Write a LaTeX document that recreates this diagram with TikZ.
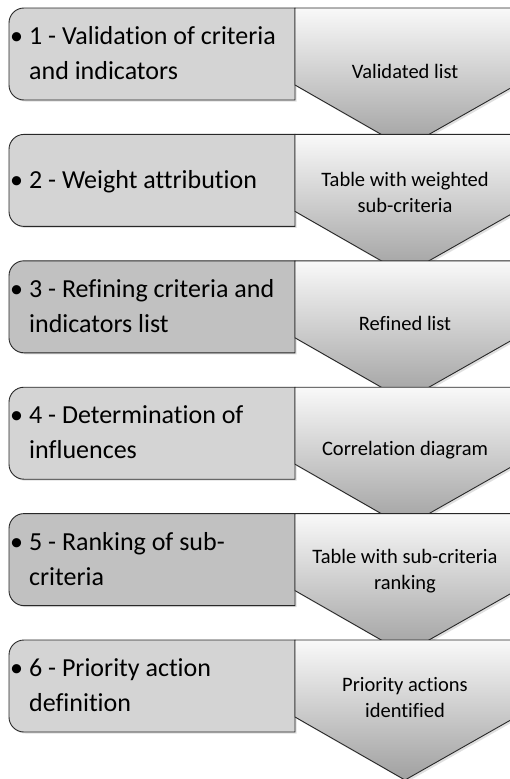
\documentclass[tikz,border=0pt]{standalone}
\usepackage{fontspec}
\setmainfont[Ligatures={NoCommon,NoRequired,NoContextual}]{Carlito}
\usetikzlibrary{positioning,calc,shadows}

\definecolor{boxlight}{RGB}{212,212,212}
\definecolor{boxdark}{RGB}{193,193,193}
\definecolor{edgegray}{RGB}{40,40,40}
\definecolor{shadetop}{RGB}{249,249,249}
\definecolor{shadebottom}{RGB}{160,160,160}

% one stage: box on the left, output chevron on the right
\newcommand{\stageshape}[2]{%
  \path[stagebox, fill=#2] (295,#1) -- (24,#1)
      arc[start angle=270, end angle=180, radius=15] -- (9,#1+77)
      arc[start angle=180, end angle=90, radius=15] -- (295,#1+92) -- cycle;
  \path[outarrow] (295,#1) -- (516,#1) -- (516,#1+77) -- (405,#1+140)
      -- (295,#1+77) -- cycle;
}

\begin{document}
\begin{tikzpicture}[x=1pt, y=-1pt,
    stagebox/.style={draw=edgegray, line width=0.9pt,
        drop shadow={shadow xshift=1.5pt, shadow yshift=-1.5pt, opacity=0.25}},
    outarrow/.style={draw=edgegray, line width=0.9pt,
        top color=shadetop, bottom color=shadebottom,
        drop shadow={shadow xshift=2pt, shadow yshift=-2pt, opacity=0.25}},
    stagetext/.style={anchor=west, inner sep=0pt, font=\fontsize{26}{35}\selectfont},
    outtext/.style={align=center, inner sep=0pt, font=\fontsize{20.5}{26}\selectfont}]
  \clip (0,0) rectangle (510,779);
  \fill[white] (0,0) rectangle (510,779);

  % 1
  \stageshape{8}{boxlight}
  \node[stagetext] (stageA) at (10,55) {\begin{tabular}{@{}l@{\hspace{6pt}}l@{}}\textbullet & 1 - Validation of criteria\\ & and indicators\end{tabular}};
  \node[outtext] (outA) at (405,71) {Validated list};

  % 2
  \stageshape{134.4}{boxlight}
  \node[stagetext] (stageB) at (10,181.4) {\begin{tabular}{@{}l@{\hspace{6pt}}l@{}}\textbullet & 2 - Weight attribution\end{tabular}};
  \node[outtext] (outB) at (405,192.4) {Table with weighted\\sub-criteria};

  % 3
  \stageshape{260.8}{boxdark}
  \node[stagetext] (stageC) at (10,307.8) {\begin{tabular}{@{}l@{\hspace{6pt}}l@{}}\textbullet & 3 - Refining criteria and\\ & indicators list\end{tabular}};
  \node[outtext] (outC) at (405,323.8) {Refined list};

  % 4
  \stageshape{387.2}{boxlight}
  \node[stagetext] (stageD) at (10,434.2) {\begin{tabular}{@{}l@{\hspace{6pt}}l@{}}\textbullet & 4 - Determination of\\ & influences\end{tabular}};
  \node[outtext] (outD) at (405,450.2) {Correlation diagram};

  % 5
  \stageshape{513.6}{boxdark}
  \node[stagetext] (stageE) at (10,560.6) {\begin{tabular}{@{}l@{\hspace{6pt}}l@{}}\textbullet & 5 - Ranking of sub-\\ & criteria\end{tabular}};
  \node[outtext] (outE) at (405,571.6) {Table with sub-criteria\\ranking};

  % 6
  \stageshape{640}{boxlight}
  \node[stagetext] (stageF) at (10,687) {\begin{tabular}{@{}l@{\hspace{6pt}}l@{}}\textbullet & 6 - Priority action\\ & definition\end{tabular}};
  \node[outtext] (outF) at (405,698) {Priority actions\\identified};
\end{tikzpicture}
\end{document}
